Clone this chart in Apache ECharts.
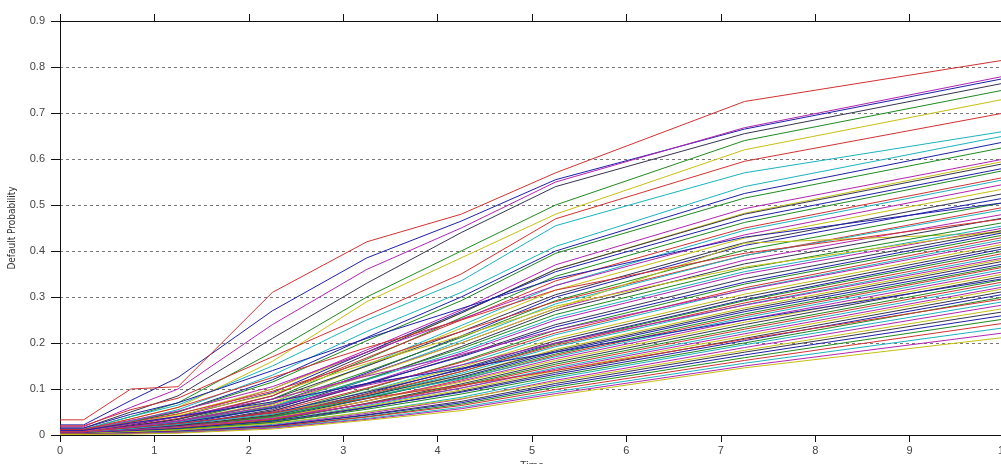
<!DOCTYPE html>
<html>
<head>
<meta charset="utf-8">
<script src="https://cdn.jsdelivr.net/npm/echarts@6/dist/echarts.min.js"></script>
<style>
  html, body { margin: 0; padding: 0; background: #fff; }
  #chart { width: 1001px; height: 464px; }
</style>
</head>
<body>
<div id="chart"></div>
<script>
// time grid of the curves (years)
const times = [0, 0.25, 0.75, 1.25, 2.25, 3.25, 4.25, 5.25, 7.25, 10];

// curves ending above ~0.6
const highCurves = [
  [0.022, 0.022, 0.075, 0.125, 0.270, 0.385, 0.465, 0.555, 0.665, 0.775],
  [0.012, 0.012, 0.040, 0.070, 0.180, 0.300, 0.400, 0.500, 0.640, 0.750],
  [0.033, 0.033, 0.100, 0.105, 0.310, 0.420, 0.480, 0.570, 0.725, 0.815],
  [0.012, 0.012, 0.040, 0.065, 0.150, 0.250, 0.335, 0.455, 0.570, 0.660],
  [0.018, 0.018, 0.060, 0.100, 0.240, 0.360, 0.450, 0.550, 0.668, 0.780],
  [0.010, 0.010, 0.035, 0.060, 0.160, 0.290, 0.385, 0.480, 0.620, 0.730],
  [0.015, 0.015, 0.050, 0.085, 0.210, 0.330, 0.440, 0.540, 0.655, 0.765],
  [0.008, 0.008, 0.028, 0.050, 0.120, 0.212, 0.300, 0.400, 0.525, 0.637],
  [0.010, 0.010, 0.030, 0.050, 0.115, 0.205, 0.292, 0.395, 0.515, 0.625],
  [0.020, 0.020, 0.055, 0.080, 0.170, 0.260, 0.350, 0.470, 0.595, 0.700],
  [0.010, 0.010, 0.030, 0.055, 0.130, 0.225, 0.310, 0.410, 0.540, 0.650],
  [0.006, 0.006, 0.022, 0.040, 0.100, 0.185, 0.272, 0.370, 0.492, 0.600],
  [0.008, 0.008, 0.025, 0.045, 0.100, 0.180, 0.265, 0.360, 0.482, 0.595]
];

// curves ending between ~0.45 and 0.6
const midCurves = [
  [0.006, 0.006, 0.018, 0.034, 0.085, 0.175, 0.265, 0.360, 0.480, 0.590],
  [0.009, 0.009, 0.022, 0.040, 0.092, 0.180, 0.268, 0.355, 0.470, 0.580],
  [0.005, 0.005, 0.015, 0.030, 0.078, 0.165, 0.255, 0.345, 0.462, 0.575],
  [0.007, 0.007, 0.020, 0.036, 0.085, 0.168, 0.250, 0.335, 0.450, 0.560],
  [0.004, 0.004, 0.013, 0.026, 0.070, 0.152, 0.238, 0.325, 0.445, 0.555],
  [0.012, 0.012, 0.032, 0.052, 0.105, 0.180, 0.252, 0.325, 0.435, 0.545],
  [0.005, 0.005, 0.015, 0.029, 0.072, 0.150, 0.232, 0.315, 0.428, 0.535],
  [0.008, 0.008, 0.020, 0.034, 0.078, 0.150, 0.225, 0.305, 0.418, 0.525],
  [0.003, 0.003, 0.011, 0.022, 0.060, 0.135, 0.215, 0.300, 0.412, 0.515],
  [0.006, 0.006, 0.016, 0.029, 0.068, 0.138, 0.212, 0.292, 0.402, 0.505],
  [0.010, 0.010, 0.028, 0.046, 0.095, 0.160, 0.225, 0.290, 0.390, 0.495],
  [0.004, 0.004, 0.013, 0.025, 0.062, 0.130, 0.205, 0.285, 0.390, 0.490],
  [0.007, 0.007, 0.018, 0.031, 0.068, 0.132, 0.200, 0.275, 0.380, 0.480],
  [0.004, 0.004, 0.014, 0.025, 0.065, 0.130, 0.200, 0.275, 0.417, 0.440],
  [0.003, 0.003, 0.010, 0.020, 0.055, 0.120, 0.192, 0.270, 0.372, 0.472],
  [0.015, 0.015, 0.045, 0.070, 0.140, 0.210, 0.275, 0.340, 0.430, 0.505],
  [0.005, 0.005, 0.014, 0.026, 0.060, 0.122, 0.188, 0.262, 0.362, 0.462],
  [0.012, 0.012, 0.035, 0.060, 0.125, 0.190, 0.250, 0.315, 0.395, 0.470],
  [0.006, 0.006, 0.016, 0.028, 0.062, 0.120, 0.182, 0.255, 0.355, 0.455],
  [0.003, 0.003, 0.010, 0.019, 0.052, 0.112, 0.178, 0.250, 0.350, 0.450],
  [0.008, 0.008, 0.024, 0.042, 0.090, 0.155, 0.215, 0.280, 0.365, 0.445]
];

// curves ending between ~0.3 and 0.45
const lowCurves = [
  [0.004, 0.004, 0.011, 0.020, 0.052, 0.110, 0.172, 0.240, 0.340, 0.445],
  [0.006, 0.006, 0.015, 0.026, 0.058, 0.112, 0.170, 0.235, 0.332, 0.440],
  [0.003, 0.003, 0.009, 0.017, 0.045, 0.100, 0.160, 0.228, 0.328, 0.435],
  [0.005, 0.005, 0.012, 0.022, 0.050, 0.102, 0.158, 0.222, 0.320, 0.430],
  [0.002, 0.002, 0.008, 0.015, 0.042, 0.095, 0.152, 0.218, 0.316, 0.425],
  [0.009, 0.009, 0.024, 0.040, 0.078, 0.128, 0.175, 0.228, 0.315, 0.420],
  [0.004, 0.004, 0.010, 0.018, 0.044, 0.094, 0.148, 0.210, 0.306, 0.415],
  [0.003, 0.003, 0.009, 0.016, 0.041, 0.090, 0.144, 0.205, 0.300, 0.410],
  [0.006, 0.006, 0.014, 0.023, 0.048, 0.093, 0.142, 0.200, 0.294, 0.405],
  [0.002, 0.002, 0.007, 0.014, 0.038, 0.085, 0.138, 0.198, 0.292, 0.400],
  [0.004, 0.004, 0.010, 0.018, 0.042, 0.088, 0.138, 0.195, 0.287, 0.395],
  [0.003, 0.003, 0.008, 0.015, 0.039, 0.084, 0.134, 0.192, 0.283, 0.390],
  [0.007, 0.007, 0.018, 0.030, 0.062, 0.108, 0.152, 0.200, 0.282, 0.385],
  [0.002, 0.002, 0.007, 0.013, 0.035, 0.080, 0.130, 0.186, 0.276, 0.382],
  [0.005, 0.005, 0.012, 0.020, 0.043, 0.085, 0.130, 0.183, 0.272, 0.378],
  [0.003, 0.003, 0.008, 0.015, 0.037, 0.079, 0.126, 0.180, 0.268, 0.372],
  [0.004, 0.004, 0.010, 0.017, 0.040, 0.080, 0.124, 0.176, 0.263, 0.368],
  [0.002, 0.002, 0.006, 0.012, 0.033, 0.074, 0.120, 0.173, 0.259, 0.365],
  [0.006, 0.006, 0.014, 0.023, 0.045, 0.083, 0.122, 0.170, 0.255, 0.360],
  [0.003, 0.003, 0.008, 0.014, 0.035, 0.074, 0.117, 0.166, 0.250, 0.355],
  [0.004, 0.004, 0.009, 0.016, 0.037, 0.074, 0.115, 0.162, 0.245, 0.350],
  [0.002, 0.002, 0.006, 0.011, 0.031, 0.069, 0.111, 0.158, 0.240, 0.345],
  [0.010, 0.010, 0.026, 0.040, 0.072, 0.112, 0.145, 0.180, 0.250, 0.340],
  [0.003, 0.003, 0.007, 0.013, 0.032, 0.068, 0.108, 0.154, 0.234, 0.338],
  [0.004, 0.004, 0.009, 0.015, 0.034, 0.068, 0.106, 0.150, 0.230, 0.333],
  [0.002, 0.002, 0.006, 0.011, 0.029, 0.064, 0.102, 0.146, 0.225, 0.328],
  [0.005, 0.005, 0.011, 0.018, 0.036, 0.067, 0.102, 0.143, 0.220, 0.322],
  [0.003, 0.003, 0.007, 0.012, 0.029, 0.062, 0.098, 0.140, 0.215, 0.318],
  [0.002, 0.002, 0.005, 0.010, 0.027, 0.059, 0.095, 0.136, 0.210, 0.312],
  [0.004, 0.004, 0.009, 0.014, 0.030, 0.060, 0.093, 0.132, 0.205, 0.306],
  [0.003, 0.003, 0.007, 0.012, 0.027, 0.056, 0.089, 0.128, 0.200, 0.300],
  [0.007, 0.007, 0.016, 0.025, 0.048, 0.080, 0.108, 0.140, 0.208, 0.296]
];

// curves ending below ~0.3
const bottomCurves = [
  [0.002, 0.002, 0.005, 0.009, 0.023, 0.050, 0.082, 0.124, 0.196, 0.290],
  [0.001, 0.001, 0.004, 0.008, 0.021, 0.047, 0.078, 0.119, 0.190, 0.283],
  [0.003, 0.003, 0.007, 0.011, 0.025, 0.050, 0.079, 0.116, 0.184, 0.275],
  [0.001, 0.001, 0.004, 0.007, 0.019, 0.044, 0.073, 0.112, 0.180, 0.268],
  [0.002, 0.002, 0.005, 0.008, 0.020, 0.043, 0.070, 0.108, 0.174, 0.260],
  [0.001, 0.001, 0.003, 0.006, 0.017, 0.040, 0.067, 0.104, 0.168, 0.252],
  [0.002, 0.002, 0.004, 0.007, 0.018, 0.039, 0.064, 0.099, 0.162, 0.243],
  [0.001, 0.001, 0.003, 0.006, 0.016, 0.036, 0.060, 0.094, 0.156, 0.233],
  [0.001, 0.001, 0.003, 0.005, 0.015, 0.034, 0.057, 0.090, 0.150, 0.222],
  [0.001, 0.001, 0.002, 0.004, 0.013, 0.032, 0.053, 0.086, 0.146, 0.212]
];

// matlab-like colour order, toned down a little
const lineColors = ['#1e1ea8', '#1f8a1f', '#d23232', '#1cb2be', '#b024b0', '#c6bf14', '#353550'];

const xTicks = [0, 1, 2, 3, 4, 5, 6, 7, 8, 9, 10];
const yTicks = [0, 0.1, 0.2, 0.3, 0.4, 0.5, 0.6, 0.7, 0.8, 0.9];

const allCurves = highCurves.concat(midCurves, lowCurves, bottomCurves);

const chart = echarts.init(document.getElementById('chart'));

const labelFont = {
  color: '#444',
  fontSize: 11,
  fontFamily: 'Liberation Sans, Arial, sans-serif'
};

const series = allCurves.map((vals, i) => ({
  type: 'line',
  data: vals.map((v, k) => [times[k], v]),
  showSymbol: false,
  symbol: 'none',
  lineStyle: { width: 1, color: lineColors[i % lineColors.length] },
  silent: true
}));

chart.setOption({
  animation: false,
  backgroundColor: '#fff',
  grid: { left: 60, right: -3, top: 21, bottom: 29, outerBoundsMode: 'none', containLabel: false },
  xAxis: [
    {
      type: 'value',
      min: xTicks[0],
      max: xTicks[xTicks.length - 1],
      interval: 1,
      name: 'Time',
      nameLocation: 'middle',
      nameGap: 21,
      nameTextStyle: labelFont,
      axisLine: { show: true, lineStyle: { color: '#111', width: 1 } },
      axisTick: { show: true, length: 7, lineStyle: { color: '#111' } },
      axisLabel: Object.assign({ margin: 10 }, labelFont),
      splitLine: { show: false }
    },
    {
      type: 'value',
      position: 'top',
      min: xTicks[0],
      max: xTicks[xTicks.length - 1],
      interval: 1,
      axisLine: { show: true, lineStyle: { color: '#111', width: 1 } },
      axisTick: { show: true, length: 7, lineStyle: { color: '#111' } },
      axisLabel: { show: false },
      splitLine: { show: false }
    }
  ],
  yAxis: {
    type: 'value',
    min: yTicks[0],
    max: yTicks[yTicks.length - 1],
    interval: 0.1,
    axisLine: { show: true, lineStyle: { color: '#111', width: 1 } },
    axisTick: { show: true, length: 9, lineStyle: { color: '#111' } },
    axisLabel: Object.assign({ margin: 15 }, labelFont),
    splitLine: { show: true, lineStyle: { color: '#777', width: 1, type: [3, 3] } }
  },
  graphic: [{
    type: 'text',
    x: 12,
    y: 228,
    rotation: Math.PI / 2,
    style: {
      text: 'Default Probability',
      fill: '#333',
      fontSize: 10,
      fontFamily: 'Liberation Sans Narrow, DejaVu Sans Condensed, Liberation Sans, sans-serif',
      textAlign: 'center',
      textVerticalAlign: 'middle'
    }
  }],
  series: series
});
</script>
</body>
</html>
